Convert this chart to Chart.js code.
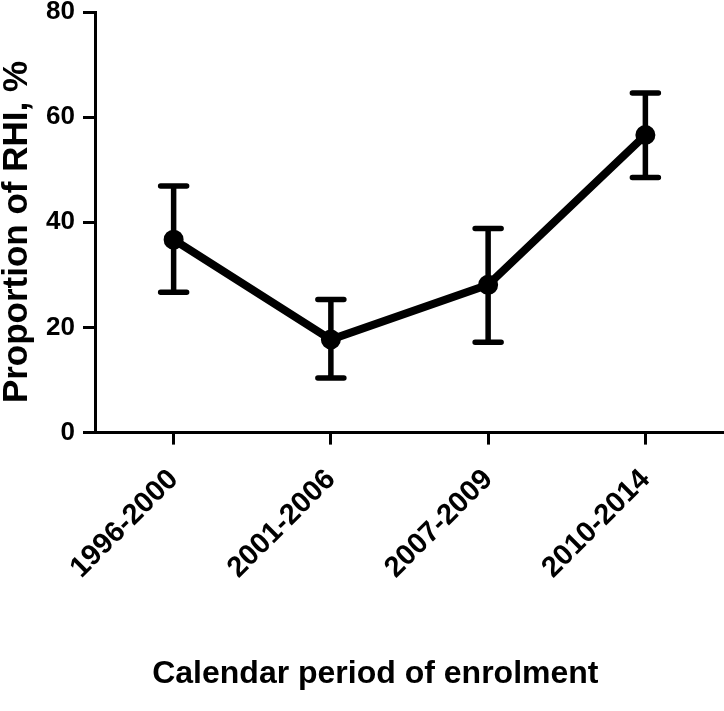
<!DOCTYPE html>
<html>
<head>
<meta charset="utf-8">
<script src="https://cdn.jsdelivr.net/npm/chart.js@4.4.1/dist/chart.umd.min.js"></script>
<style>
    html, body { margin: 0; padding: 0; background: #fff; }
    #wrap { width: 724px; height: 711px; }
</style>
</head>
<body>
<div id="wrap"><canvas id="chart"></canvas></div>
<script>
// Data
const periods = ['1996-2000', '2001-2006', '2007-2009', '2010-2014'];
const proportion = [36.7, 17.7, 28.1, 56.6];
const lowerCI = [26.7, 10.4, 17.2, 48.5];
const upperCI = [46.9, 25.3, 38.8, 64.6];
const yTicks = [0, 20, 40, 60, 80];

const FONT = '"Liberation Sans", Arial, Helvetica, sans-serif';

// Error bars drawn through the chart's own scales
const errorBars = {
    id: 'errorBars',
    beforeDatasetsDraw(chart) {
        const ctx = chart.ctx;
        const x = chart.scales.x;
        const y = chart.scales.y;
        const cap = 13;
        ctx.save();
        ctx.strokeStyle = '#000';
        ctx.lineWidth = 5.5;
        ctx.lineCap = 'round';
        periods.forEach((p, i) => {
            const px = x.getPixelForValue(i);
            const top = y.getPixelForValue(upperCI[i]);
            const bot = y.getPixelForValue(lowerCI[i]);
            ctx.beginPath();
            ctx.moveTo(px, top);
            ctx.lineTo(px, bot);
            ctx.moveTo(px - cap, top);
            ctx.lineTo(px + cap, top);
            ctx.moveTo(px - cap, bot);
            ctx.lineTo(px + cap, bot);
            ctx.stroke();
        });
        ctx.restore();
    }
};

const ctx = document.getElementById('chart').getContext('2d');
new Chart(ctx, {
    type: 'line',
    data: {
        labels: periods,
        datasets: [{
            data: proportion,
            borderColor: '#000',
            backgroundColor: '#000',
            borderWidth: 8,
            pointRadius: 9,
            pointBorderWidth: 2,
            pointBackgroundColor: '#000',
            pointBorderColor: '#000',
            tension: 0,
            clip: false
        }]
    },
    options: {
        responsive: true,
        maintainAspectRatio: false,
        animation: false,
        layout: { autoPadding: false, padding: { top: 12, right: 0, left: 0, bottom: 0 } },
        plugins: {
            legend: { display: false },
            tooltip: { enabled: false },
            title: {
                display: true,
                position: 'bottom',
                // leading spaces nudge the centred title right, as in the source
                text: '   Calendar period of enrolment',
                color: '#000',
                font: { family: FONT, size: 32, weight: 'bold' },
                padding: { top: 0, bottom: 18 }
            }
        },
        scales: {
            x: {
                offset: true,
                grid: {
                    display: true,
                    offset: false,
                    drawOnChartArea: false,
                    drawTicks: true,
                    tickLength: 12,
                    lineWidth: 3,
                    color: '#000'
                },
                border: { display: true, color: '#000', width: 3 },
                ticks: {
                    color: '#000',
                    font: { family: FONT, size: 29, weight: 'bold' },
                    minRotation: 45,
                    maxRotation: 45,
                    padding: 18
                },
                afterFit(scale) {
                    scale.height = 222;
                    scale.paddingRight = 0;
                    scale.paddingLeft = 0;
                }
            },
            y: {
                min: 0,
                max: 80,
                grid: {
                    display: true,
                    drawOnChartArea: false,
                    drawTicks: true,
                    tickLength: 12,
                    lineWidth: 3,
                    color: '#000'
                },
                border: { display: true, color: '#000', width: 3 },
                afterBuildTicks(scale) {
                    scale.ticks = yTicks.map(v => ({ value: v }));
                },
                ticks: {
                    color: '#000',
                    font: { family: FONT, size: 26, weight: 'bold' },
                    padding: 8
                },
                title: {
                    display: true,
                    // trailing spaces push the rotated title a little lower
                    text: 'Proportion of RHI, %  ',
                    color: '#000',
                    font: { family: FONT, size: 35, weight: 'bold', lineHeight: 1 },
                    padding: { top: 0, bottom: 4 }
                },
                afterFit(scale) {
                    scale.width = 95;
                    scale.paddingTop = 0;
                    scale.paddingBottom = 0;
                }
            }
        }
    },
    plugins: [errorBars]
});
</script>
</body>
</html>
